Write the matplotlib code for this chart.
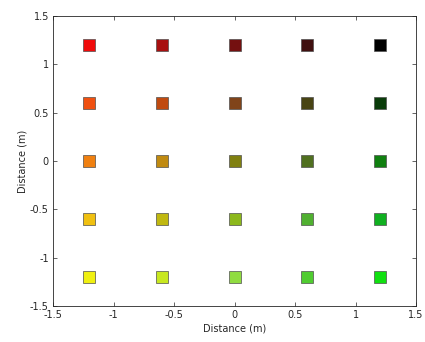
import matplotlib
matplotlib.use("Agg")
import matplotlib.pyplot as plt

# grid positions (m)
x_pos = [-1.2, -0.6, 0.0, 0.6, 1.2]
y_pos = [1.2, 0.6, 0.0, -0.6, -1.2]

# colours per row (top to bottom), per column (left to right)
row_colors = [
    ["#f00a0a", "#a81010", "#741010", "#401010", "#000000"],
    ["#f05010", "#c04a10", "#80441a", "#484414", "#0a3c0a"],
    ["#f08010", "#c08a10", "#808010", "#507020", "#108010"],
    ["#f0c010", "#c0b810", "#8cb81c", "#50b030", "#10b020"],
    ["#f0f010", "#c8e820", "#90dc40", "#50cc30", "#10e010"],
]

xticks = [-1.5, -1, -0.5, 0, 0.5, 1, 1.5]
yticks = [-1.5, -1, -0.5, 0, 0.5, 1, 1.5]
tick_labels = ["-1.5", "-1", "-0.5", "0", "0.5", "1", "1.5"]

fig = plt.figure(figsize=(4.25, 3.42), dpi=100)
ax = fig.add_axes([0.1247, 0.105, 0.979 - 0.1247, 0.953 - 0.105])

for yi, y in enumerate(y_pos):
    for xi, x in enumerate(x_pos):
        ax.plot([x], [y], marker="s", markersize=8.5, linestyle="none",
                markerfacecolor=row_colors[yi][xi], markeredgecolor="#505050",
                markeredgewidth=0.5)

ax.set_xlim(-1.5, 1.5)
ax.set_ylim(-1.5, 1.5)
ax.set_xticks(xticks)
ax.set_xticklabels(tick_labels)
ax.set_yticks(yticks)
ax.set_yticklabels(tick_labels)
ax.tick_params(direction="in", top=True, right=True, length=3, width=0.5,
               labelsize=7, colors="#262626", pad=3)
for s in ax.spines.values():
    s.set_linewidth(0.6)
    s.set_color("#262626")
ax.set_xlabel("Distance (m)", fontsize=7, color="#262626", labelpad=2)
ax.set_ylabel("Distance (m)", fontsize=7, color="#262626", labelpad=2)

fig.savefig("out.png", dpi=100)
